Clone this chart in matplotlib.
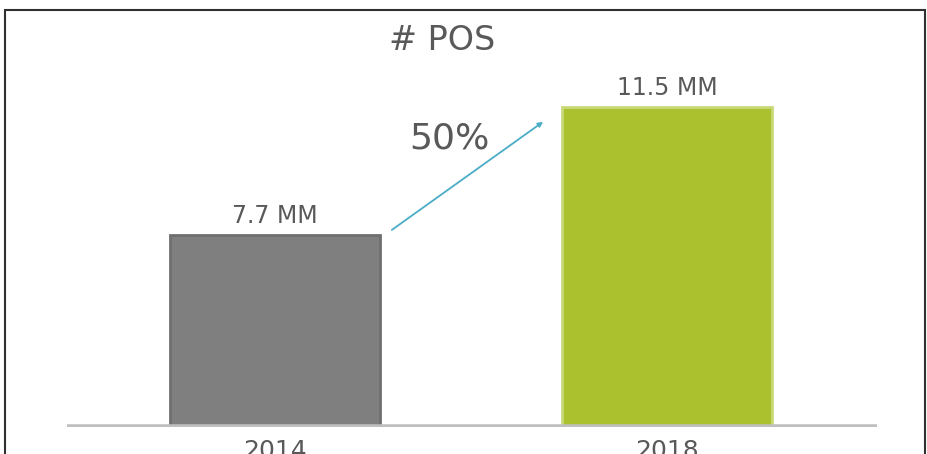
import numpy as np
import matplotlib.pyplot as plt
from matplotlib.patches import Rectangle

### Data
years = ['2014', '2018']
pos = [7.7, 11.5]                 # [MM]
labels = ['7.7 MM', '11.5 MM']
colors = ['#7f7f7f', '#abc22e']
edges = ['#6f6f6f', '#c9d97a']
growth = '50%'

### plot
fig = plt.figure(figsize=(9.27, 4.54), dpi=100)
txt = '#595959'

# outer frame
fig.patches.append(Rectangle((5 / 927, -0.01), 920 / 927, 1 - 10 / 454 + 0.01,
                             transform=fig.transFigure, fill=False,
                             edgecolor='#303030', linewidth=1.5))

ax = fig.add_axes([67 / 927, 1 - 427 / 454, 810 / 927, 377 / 454])
x = np.arange(len(years))
ax.bar(x, pos, width=0.536, bottom=0, color=colors, edgecolor=edges, linewidth=2, zorder=2)
ax.set_xlim(-0.531, 1.536)
ax.set_ylim(2.0, 13.19)

for i, (v, lab) in enumerate(zip(pos, labels)):
    ax.text(i, v + 0.22, lab, ha='center', va='bottom', fontsize=17, color=txt)

ax.axhline(2.0, color='#bfbfbf', linewidth=4, zorder=3)

# growth arrow
ax.annotate('', xy=(0.684, 11.06), xytext=(0.298, 7.85),
            arrowprops=dict(arrowstyle='-|>', color='#4bacc6', lw=1.3,
                            mutation_scale=7, shrinkA=0, shrinkB=0))
ax.text(0.446, 10.55, growth, ha='center', va='center', fontsize=26, color=txt)

fig.text(442 / 927, 1 - 40 / 454, '# POS', ha='center', va='center', fontsize=24, color=txt)
ax.set_xticks(x)
ax.set_xticklabels(years, fontsize=18, color=txt)
ax.tick_params(length=0, pad=9)
ax.set_yticks([])
for s in ax.spines.values():
    s.set_visible(False)

fig.savefig('out.png', dpi=100)
